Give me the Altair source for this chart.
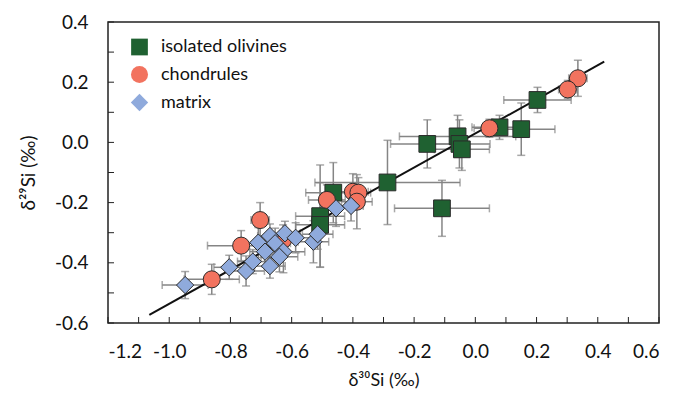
import altair as alt
import pandas as pd

groups = ["isolated olivines", "chondrules", "matrix"]
fills = ["#1f6131", "#f2735f", "#8faadc"]
shapes = ["square", "circle", "diamond"]

# isolated olivines
oliv_x = [0.203, 0.150, 0.079, -0.058, -0.052, -0.044, -0.157, -0.287, -0.109, -0.464, -0.507, -0.507]
oliv_y = [0.141, 0.044, 0.050, 0.020, -0.005, -0.023, -0.005, -0.133, -0.219, -0.167, -0.245, -0.274]
oliv_xe = [0.11, 0.11, 0.09, 0.19, 0.10, 0.09, 0.12, 0.237, 0.155, 0.09, 0.08, 0.08]
oliv_ye = [0.042, 0.087, 0.04, 0.07, 0.08, 0.07, 0.08, 0.14, 0.093, 0.10, 0.17, 0.14]

# chondrules
chon_x = [0.335, 0.302, 0.046, -0.400, -0.382, -0.387, -0.485, -0.703, -0.765, -0.861, -0.628]
chon_y = [0.213, 0.176, 0.047, -0.164, -0.167, -0.197, -0.191, -0.258, -0.343, -0.455, -0.324]
chon_xe = [0.03, 0.03, 0.05, 0.05, 0.04, 0.05, 0.06, 0.03, 0.11, 0.09, 0.05]
chon_ye = [0.06, 0.03, 0.03, 0.06, 0.05, 0.09, 0.05, 0.058, 0.05, 0.05, 0.05]

# matrix
matr_x = [-0.948, -0.804, -0.749, -0.727, -0.709, -0.671, -0.687, -0.671, -0.654, -0.627,
          -0.622, -0.640, -0.587, -0.529, -0.515, -0.455, -0.406]
matr_y = [-0.474, -0.415, -0.427, -0.396, -0.333, -0.311, -0.363, -0.411, -0.335, -0.363,
          -0.302, -0.380, -0.317, -0.330, -0.305, -0.219, -0.211]
matr_xe = [0.075, 0.05, 0.06, 0.05, 0.05, 0.04, 0.05, 0.05, 0.05, 0.07,
           0.05, 0.06, 0.06, 0.05, 0.05, 0.05, 0.04]
matr_ye = [0.045, 0.04, 0.05, 0.04, 0.05, 0.04, 0.05, 0.04, 0.05, 0.07,
           0.04, 0.05, 0.05, 0.07, 0.05, 0.06, 0.05]

# regression line end points
line_x = [-1.065, 0.421]
line_y = [-0.573, 0.268]

x_ticks = [-1.2, -1.0, -0.8, -0.6, -0.4, -0.2, 0.0, 0.2, 0.4, 0.6]
y_ticks = [-0.6, -0.4, -0.2, 0.0, 0.2, 0.4]
x_minor = [round(-1.2 + 0.1 * i, 1) for i in range(19)]
y_minor = [round(-0.6 + 0.1 * i, 1) for i in range(11)]

rows = []
for g, xs, ys, xes, yes in [
    (groups[0], oliv_x, oliv_y, oliv_xe, oliv_ye),
    (groups[1], chon_x, chon_y, chon_xe, chon_ye),
    (groups[2], matr_x, matr_y, matr_xe, matr_ye),
]:
    for x, y, xe, ye in zip(xs, ys, xes, yes):
        rows.append(dict(group=g, x=x, y=y, xlo=x - xe, xhi=x + xe, ylo=y - ye, yhi=y + ye))
df = pd.DataFrame(rows)

FONT = "Lato"
W, H = 551, 301
TXT = "#111111"
LBL = "(datum.value < -0.0001 ? '-' : '') + format(abs(datum.value), '.1f')"

xs_ = alt.Scale(domain=[-1.2, 0.6], nice=False, zero=False)
ys_ = alt.Scale(domain=[-0.6, 0.4], nice=False, zero=False)

xa = alt.Axis(
    values=x_ticks, labelExpr=LBL, ticks=False, domain=False, grid=False,
    labelFont=FONT, labelFontSize=19, labelColor=TXT, labelPadding=19,
    title="δ³⁰Si (‰)", titleFont=FONT, titleFontSize=18, titleFontWeight="normal",
    titleColor=TXT, titlePadding=10)
ya = alt.Axis(
    values=y_ticks, labelExpr=LBL, ticks=False, domain=False, grid=False,
    labelFont=FONT, labelFontSize=19, labelColor=TXT, labelPadding=20,
    title="δ²⁹Si (‰)", titleFont=FONT, titleFontSize=19, titleFontWeight="normal",
    titleColor=TXT, titlePadding=16)


def X(f):
    return alt.X(f, scale=xs_, axis=xa)


def Y(f):
    return alt.Y(f, scale=ys_, axis=ya)


base = alt.Chart(df)
ebc = "#858585"

xbar = base.mark_rule(color=ebc, strokeWidth=1.5).encode(x=X("xlo:Q"), x2="xhi:Q", y=Y("y:Q"))
ybar = base.mark_rule(color=ebc, strokeWidth=1.5).encode(x=X("x:Q"), y=Y("ylo:Q"), y2="yhi:Q")
cap_xlo = base.mark_tick(orient="vertical", color=ebc, size=8, thickness=1.5).encode(
    x=X("xlo:Q"), y=Y("y:Q"))
cap_xhi = base.mark_tick(orient="vertical", color=ebc, size=8, thickness=1.5).encode(
    x=X("xhi:Q"), y=Y("y:Q"))
cap_ylo = base.mark_tick(orient="horizontal", color=ebc, size=8, thickness=1.5).encode(
    x=X("x:Q"), y=Y("ylo:Q"))
cap_yhi = base.mark_tick(orient="horizontal", color=ebc, size=8, thickness=1.5).encode(
    x=X("x:Q"), y=Y("yhi:Q"))

line = alt.Chart(pd.DataFrame({"x": line_x, "y": line_y})).mark_line(
    color=TXT, strokeWidth=2).encode(x=X("x:Q"), y=Y("y:Q"))

leg = alt.Legend(
    title=None, orient="none", legendX=22, legendY=16, padding=0,
    labelFont=FONT, labelFontSize=18, labelColor=TXT,
    labelOffset=12, rowPadding=5,
    symbolStrokeColor="#2b2b2b", symbolStrokeWidth=1, symbolOpacity=1)

points = base.mark_point(filled=True, opacity=1, stroke="#2b2b2b", strokeWidth=1).encode(
    x=X("x:Q"), y=Y("y:Q"),
    color=alt.Color("group:N", scale=alt.Scale(domain=groups, range=fills), legend=leg),
    shape=alt.Shape("group:N", scale=alt.Scale(domain=groups, range=shapes), legend=leg),
    size=alt.Size("group:N", scale=alt.Scale(domain=groups, range=[280, 300, 470]), legend=leg),
)

xt = alt.Chart(pd.DataFrame({"x": x_minor})).mark_rule(color="#222222", strokeWidth=1).encode(
    x=X("x:Q"), y=alt.value(H), y2=alt.value(H - 6))
yt = alt.Chart(pd.DataFrame({"y": y_minor})).mark_rule(color="#222222", strokeWidth=1).encode(
    y=Y("y:Q"), x=alt.value(0), x2=alt.value(6))

chart = alt.layer(xbar, ybar, cap_xlo, cap_xhi, cap_ylo, cap_yhi, line, xt, yt, points).properties(
    width=W, height=H, background="white",
    autosize=alt.AutoSizeParams(type="none"),
    padding={"left": 100, "top": 14, "right": 9, "bottom": 72},
).configure_view(stroke="#222222", strokeWidth=1.5)

chart.save("out.html", embed_options={"renderer": "svg", "actions": False})
